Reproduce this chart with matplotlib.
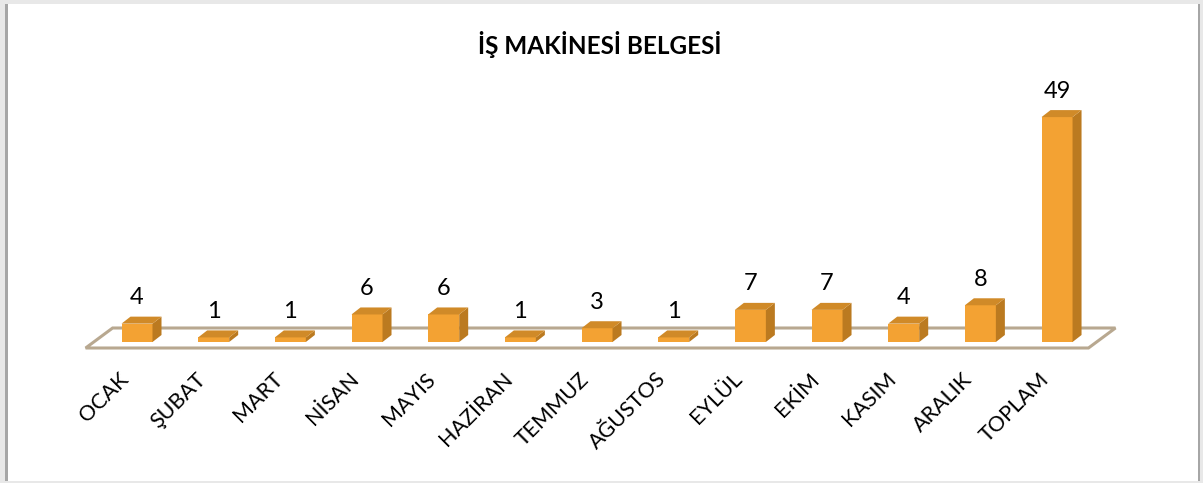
import matplotlib
matplotlib.use("Agg")
import matplotlib.pyplot as plt
from matplotlib.patches import Polygon, Rectangle
import numpy as np

plt.rcParams['font.family'] = ['Lato', 'DejaVu Sans']

months = ['OCAK', 'ŞUBAT', 'MART', 'NİSAN', 'MAYIS', 'HAZİRAN', 'TEMMUZ',
          'AĞUSTOS', 'EYLÜL', 'EKİM', 'KASIM', 'ARALIK', 'TOPLAM']
counts = [4, 1, 1, 6, 6, 1, 3, 1, 7, 7, 4, 8, 49]
title = 'İŞ MAKİNESİ BELGESİ'

W, H = 1203, 483
fig = plt.figure(figsize=(W / 100, H / 100), dpi=100)
fig.patch.set_facecolor('#e8e8e8')

# white chart area + side borders
fig.patches.append(Rectangle((7 / W, 2 / H), 1191 / W, 477 / H, transform=fig.transFigure,
                             facecolor='white', edgecolor='none', zorder=-2))
fig.patches.append(Rectangle((5 / W, 2 / H), 2.5 / W, 477 / H, transform=fig.transFigure,
                             facecolor='#a6a6a6', edgecolor='none', zorder=-2))
fig.patches.append(Rectangle((1197.5 / W, 2 / H), 2.5 / W, 477 / H, transform=fig.transFigure,
                             facecolor='#a6a6a6', edgecolor='none', zorder=-2))

ax = fig.add_axes([0, 0, 1, 1])
ax.set_facecolor('none')
ax.axis('off')

# pixel scale: bar step 76.67 px, 4.59 px per unit
step = 76.67
unit = 4.59
x0, y0 = 137, 342
ax.set_xlim(-x0 / step, (W - x0) / step)
ax.set_ylim((y0 - H) / unit, y0 / unit)

x = np.arange(len(months))
bw = 31 / step
dx = 9 / step
dy = 7 / unit

# floor
fx = 27 / step
fy = 20 / unit
front = -6 / unit
floor = [(-0.67, front), (x[-1] + 0.41, front),
         (x[-1] + 0.41 + fx, front + fy), (-0.67 + fx, front + fy)]
ax.add_patch(Polygon(floor, closed=True, facecolor='none', edgecolor='#b8a890',
                     lw=2.2, zorder=1))

front_c = '#f3a233'
side_c = '#bb7a20'
top_c = '#d08a28'

ax.bar(x, counts, width=bw, color=front_c, edgecolor='none', zorder=3)
for xi, v in zip(x, counts):
    r = xi + bw / 2
    l = xi - bw / 2
    ax.add_patch(Polygon([(r, 0), (r + dx, dy), (r + dx, v + dy), (r, v)],
                         closed=True, facecolor=side_c, edgecolor='none', zorder=3))
    ax.add_patch(Polygon([(l, v), (r, v), (r + dx, v + dy), (l + dx, v + dy)],
                         closed=True, facecolor=top_c, edgecolor='none', zorder=3))
    ax.text(xi, v + 26 / unit, str(v), ha='center', va='center', fontsize=17,
            color='black', zorder=4)

# category labels
for xi, name in zip(x, months):
    ax.text(xi - 4 / step, (y0 - 369) / unit, name, rotation=45, ha='right', va='top',
            fontsize=15.5, color='black')

ax.text((600 - x0) / step, (y0 - 45) / unit, title, ha='center', va='center',
        fontsize=17.5, fontweight='bold', color='black')

fig.savefig('out.png', dpi=100, facecolor=fig.get_facecolor())
